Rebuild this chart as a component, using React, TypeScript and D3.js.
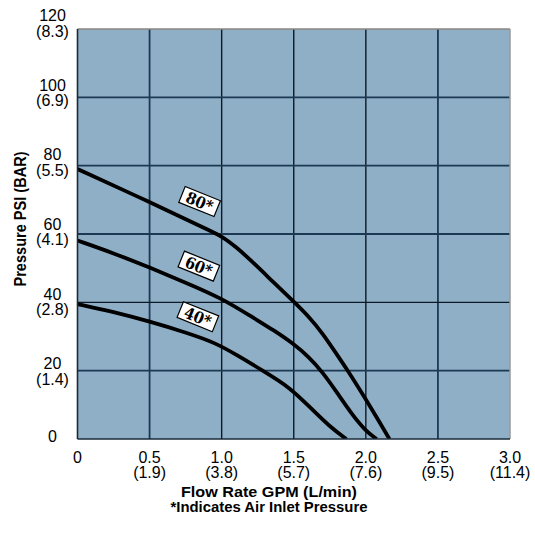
import React from "react";
import * as d3 from "d3";

const xTicks = [0, 0.5, 1.0, 1.5, 2.0, 2.5, 3.0];
const xTickMain = ["0", "0.5", "1.0", "1.5", "2.0", "2.5", "3.0"];
const xTickSub = ["", "(1.9)", "(3.8)", "(5.7)", "(7.6)", "(9.5)", "(11.4)"];
const yTicks = [0, 20, 40, 60, 80, 100, 120];
const yTickMain = ["0", "20", "40", "60", "80", "100", "120"];
const yTickSub = ["", "(1.4)", "(2.8)", "(4.1)", "(5.5)", "(6.9)", "(8.3)"];

const curve80X = [0, 0.5, 0.9, 1.0, 1.1, 1.2, 1.366, 1.5, 1.61, 1.702, 1.795, 1.875, 1.945, 2.003, 2.095, 2.164];
const curve80Y = [79, 69.4, 61.3, 59.4, 56.2, 52.4, 45.6, 40.2, 35.6, 30.8, 25.0, 20, 15.3, 11.4, 4.9, 0];
const curve60X = [0, 0.25, 0.5, 0.75, 1.0, 1.2, 1.366, 1.5, 1.6, 1.7, 1.8, 1.9, 2.0, 2.075];
const curve60Y = [58.1, 54.4, 50.2, 45.8, 41.2, 36.0, 31.7, 27.8, 24.2, 19.6, 13.6, 7.4, 2.3, 0];
const curve40X = [0, 0.25, 0.5, 0.75, 0.95, 1.113, 1.285, 1.47, 1.61, 1.75, 1.865];
const curve40Y = [39.5, 37.2, 34.4, 31.2, 28.3, 24.4, 20, 15.2, 9.4, 3.6, 0];

const seriesNames = ["80*", "60*", "40*"];
const labelX = [0.847, 0.842, 0.835];
const labelY = [69.5, 50.6, 35.8];

const darkX = [1.0, 1.5, 2.0];
const darkY = [40];

export default function App() {
  const W = 535;
  const H = 537;
  const x = d3.scaleLinear().domain([0, 3]).range([77.5, 510]);
  const y = d3.scaleLinear().domain([0, 120]).range([439, 29]);
  const yLab = d3.scaleLinear().domain([20, 120]).range([369.3, 21]);

  const line = d3
    .line<[number, number]>()
    .x((d) => x(d[0]))
    .y((d) => y(d[1]))
    .curve(d3.curveBasis);

  const series = [
    d3.zip(curve80X, curve80Y) as [number, number][],
    d3.zip(curve60X, curve60Y) as [number, number][],
    d3.zip(curve40X, curve40Y) as [number, number][],
  ];

  const sans = "'Liberation Sans', Arial, sans-serif";
  const narrow = "'Liberation Sans Narrow', 'Liberation Sans', Arial, sans-serif";
  const gridNavy = "#1c3954";
  const tickFs = 16;

  return (
    <svg
      width={W}
      height={H}
      style={{ position: "absolute", left: 0, top: 0, background: "#fff" }}
    >
      <defs>
        <clipPath id="plotClip">
          <rect x={x(0)} y={y(120)} width={x(3) - x(0)} height={y(0) - y(120)} />
        </clipPath>
      </defs>
      <rect
        x={x(0)}
        y={y(120)}
        width={x(3) - x(0)}
        height={y(0) - y(120)}
        fill="#8fafc6"
      />
      {xTicks.slice(1, -1).map((t) => (
        <line
          key={"gx" + t}
          x1={x(t)}
          x2={x(t)}
          y1={y(120)}
          y2={y(0)}
          stroke={darkX.includes(t) ? "#0d1a26" : gridNavy}
          strokeWidth={darkX.includes(t) ? 1.4 : 1.8}
        />
      ))}
      {yTicks.slice(1, -1).map((t) => (
        <line
          key={"gy" + t}
          x1={x(0)}
          x2={x(3)}
          y1={y(t)}
          y2={y(t)}
          stroke={darkY.includes(t) ? "#0d1a26" : gridNavy}
          strokeWidth={darkY.includes(t) ? 1.4 : 1.8}
        />
      ))}

      <g clipPath="url(#plotClip)">
        {series.map((s, i) => (
          <path
            key={"s" + i}
            d={line(s) || ""}
            fill="none"
            stroke="#000"
            strokeWidth={3.8}
            strokeLinejoin="round"
          />
        ))}
      </g>

      <line x1={x(0)} x2={x(3)} y1={y(120)} y2={y(120)} stroke="#8c8680" strokeWidth={1.5} />
      <line x1={x(3)} x2={x(3)} y1={y(120)} y2={y(0)} stroke="#9a9a9a" strokeWidth={1.5} />
      <line x1={x(0)} x2={x(0)} y1={y(120)} y2={y(0)} stroke="#1a2a38" strokeWidth={1.6} />
      <line x1={x(0)} x2={x(3)} y1={y(0)} y2={y(0)} stroke="#1a2a38" strokeWidth={1.6} />

      {seriesNames.map((n, i) => (
        <g
          key={"lab" + i}
          transform={`translate(${x(labelX[i])},${y(labelY[i])}) rotate(22)`}
        >
          <rect x={-19} y={-8.5} width={38} height={17} fill="#fff" stroke="#000" strokeWidth={1.2} />
          <text
            x={0}
            y={6}
            textAnchor="middle"
            fontFamily="'DejaVu Serif Condensed', 'DejaVu Serif', serif"
            fontWeight="bold"
            fontSize={16}
            textLength={28}
            lengthAdjust="spacingAndGlyphs"
            fill="#000"
          >
            {n}
          </text>
        </g>
      ))}

      {yTicks.map((t, i) =>
        yTickSub[i] === "" ? (
          <text key={"yl" + t} x={52.5} y={y(t) + 3} textAnchor="middle" fontFamily={sans} fontSize={tickFs} fill="#000">
            {yTickMain[i]}
          </text>
        ) : (
          <g key={"yl" + t}>
            <text x={52.5} y={yLab(t)} textAnchor="middle" fontFamily={sans} fontSize={tickFs} fill="#000">
              {yTickMain[i]}
            </text>
            <text x={52.5} y={yLab(t) + 15.5} textAnchor="middle" fontFamily={sans} fontSize={tickFs} fill="#000">
              {yTickSub[i]}
            </text>
          </g>
        )
      )}

      {xTicks.map((t, i) => (
        <g key={"xl" + t}>
          <text x={x(t)} y={462.5} textAnchor="middle" fontFamily={sans} fontSize={tickFs} fill="#000">
            {xTickMain[i]}
          </text>
          {xTickSub[i] !== "" && (
            <text x={x(t)} y={478} textAnchor="middle" fontFamily={sans} fontSize={tickFs} fill="#000">
              {xTickSub[i]}
            </text>
          )}
        </g>
      ))}

      <text
        x={269}
        y={496.5}
        textAnchor="middle"
        fontFamily={narrow}
        fontWeight="bold"
        fontSize={15}
        textLength={176}
        lengthAdjust="spacingAndGlyphs"
        fill="#000"
      >
        Flow Rate GPM (L/min)
      </text>
      <text
        x={269}
        y={512}
        textAnchor="middle"
        fontFamily={narrow}
        fontWeight="bold"
        fontSize={15}
        textLength={197}
        lengthAdjust="spacingAndGlyphs"
        fill="#000"
      >
        *Indicates Air Inlet Pressure
      </text>
      <text
        transform={`translate(25.5,219) rotate(-90)`}
        textAnchor="middle"
        fontFamily={narrow}
        fontWeight="bold"
        fontSize={16}
        textLength={135}
        lengthAdjust="spacingAndGlyphs"
        fill="#000"
      >
        Pressure PSI (BAR)
      </text>
    </svg>
  );
}
